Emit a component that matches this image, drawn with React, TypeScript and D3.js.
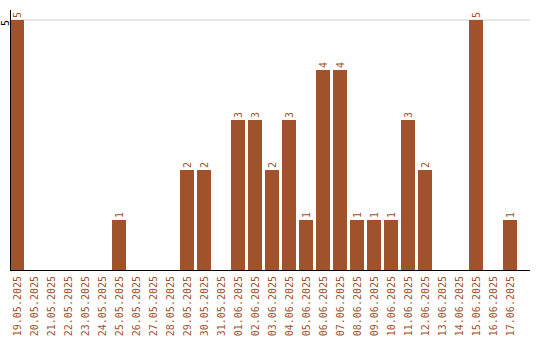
import React from "react";
import * as d3 from "d3";

const dates = [
  "19.05.2025","20.05.2025","21.05.2025","22.05.2025","23.05.2025","24.05.2025","25.05.2025",
  "26.05.2025","27.05.2025","28.05.2025","29.05.2025","30.05.2025","31.05.2025",
  "01.06.2025","02.06.2025","03.06.2025","04.06.2025","05.06.2025","06.06.2025","07.06.2025",
  "08.06.2025","09.06.2025","10.06.2025","11.06.2025","12.06.2025","13.06.2025","14.06.2025",
  "15.06.2025","16.06.2025","17.06.2025",
];
const counts = [5,0,0,0,0,0,1,0,0,0,2,2,0,3,3,2,3,1,4,4,1,1,1,3,2,0,0,5,0,1];
const yTicks = [5];

const W = 540, H = 340;
const left = 10, right = 530, top = 20, bottom = 270;
const COLOR = "#a0522d";
const FONT = "'DejaVu Sans Mono', monospace";

export default function App() {
  const x = d3.scaleBand<string>().domain(dates).range([left, left + 17 * dates.length - 3]).paddingInner(3 / 17).paddingOuter(0);
  const y = d3.scaleLinear().domain([0, 5]).range([bottom, top]);
  const bw = x.bandwidth();
  return (
    <svg width={W} height={H} style={{ position: "absolute", left: 0, top: 0 }}>
      {yTicks.map((t) => (
        <g key={t}>
          <line x1={left} x2={right} y1={y(t)} y2={y(t)} stroke="#cccccc" />
          <text transform={`translate(5,${y(t)}) rotate(-90)`} textAnchor="end" dy="0.35em" fontSize={10} fontFamily={FONT} fill="#000">{t}</text>
        </g>
      ))}
      {dates.map((d, i) => (
        <g key={d}>
          {counts[i] > 0 && (
            <>
              <rect x={x(d)} y={y(counts[i])} width={bw} height={bottom - y(counts[i])} fill={COLOR} />
              <text transform={`translate(${(x(d) as number) + bw / 2},${y(counts[i]) - 2}) rotate(-90)`} textAnchor="start" dy="0.35em" fontSize={10} fontFamily={FONT} fill={COLOR}>{counts[i]}</text>
            </>
          )}
          <text transform={`translate(${(x(d) as number) + bw / 2},276) rotate(-90)`} textAnchor="end" dy="0.35em" fontSize={10} fontFamily={FONT} fill={COLOR}>{d}</text>
        </g>
      ))}
      <line x1={left + 0.5} x2={left + 0.5} y1={10} y2={bottom} stroke="#000" />
      <line x1={left} x2={right} y1={bottom + 0.5} y2={bottom + 0.5} stroke="#000" />
    </svg>
  );
}
